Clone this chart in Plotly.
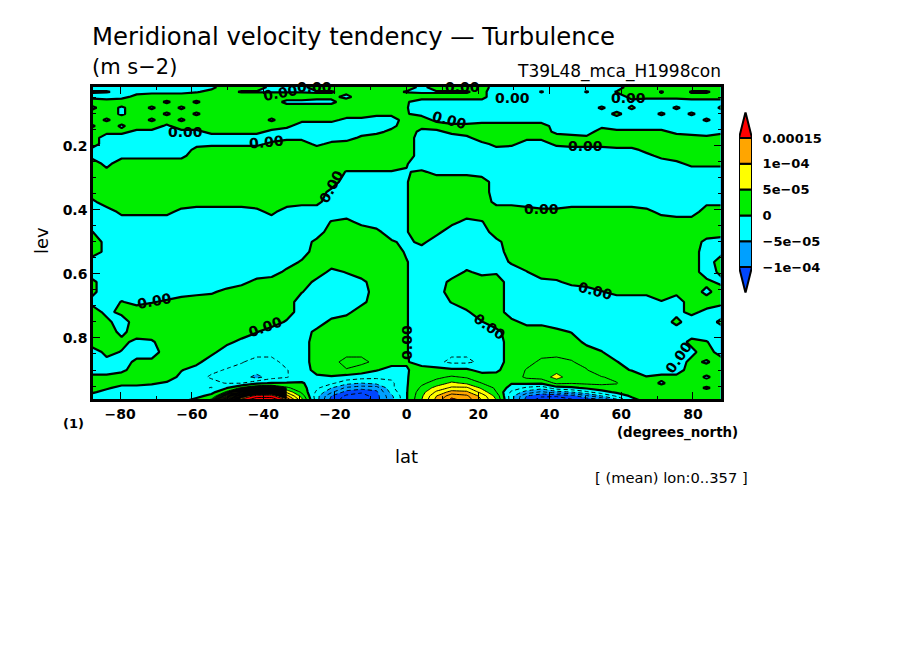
import numpy as np
import plotly.graph_objs as go

# grid of the field
lat = [-88, -83.8, -79.6, -75.4, -71.2, -67, -62.9, -58.7, -54.5, -50.3, -46.1,
       -41.9, -37.7, -33.5, -29.3, -25.1, -21, -16.8, -12.6, -8.4, -4.2, 0,
       4.2, 8.4, 12.6, 16.8, 21, 25.1, 29.3, 33.5, 37.7, 41.9, 46.1, 50.3,
       54.5, 58.7, 62.9, 67, 71.2, 75.4, 79.6, 83.8, 88]
lev = [0.016, 0.031, 0.047, 0.0625, 0.081, 0.1, 0.119, 0.1375, 0.156, 0.175,
       0.194, 0.2125, 0.231, 0.256, 0.281, 0.3125, 0.344, 0.375, 0.406, 0.4375,
       0.469, 0.5, 0.531, 0.5625, 0.594, 0.625, 0.656, 0.6875, 0.719, 0.75,
       0.781, 0.8125, 0.844, 0.875, 0.9, 0.922, 0.941, 0.956, 0.969, 0.981, 0.994]

# tendency in units of 1e-5 m s-2, one row per level
tend = [
    [-2,-2,-2,-2,-2,-2,-2,-2,-1,2,2,2,-1,-1,-1,2,2,2,2,2,2,2, -1,2,2,2,2,-2,-2,-2,-2,-2,-2,-2,-2,-2,2,2,2,2,2,2,2],
    [0.3,0.3,-1,-1,-1,-1,-1,-0.3,1,1,-0.3,-0.3,-0.3,-0.3,-0.3,-0.3,-0.3,1,1,1,1,-0.3, -0.3,-0.3,-0.3,-0.3,1,-2,-2,-2,0.3,-2,-2,0.3,-2,0.3,1,2,-0.3,2,-0.3,-0.3,1],
    [-1,-2,-1,1,2,2,2,2,2,2,2,2,2,2,2,1,1,-1,2,2,2,2, 1,1,1,1,1,-2,-2,-2,-2,-2,-2,-2,-2,-2,1,1,1,1,1,1,1],
    [2,2,2,2,2,-0.6,2,-0.6,2,2,2,2,2,-1,-1,-1,-1,2,2,2,2,0.2, -1,-1,-1,-1,-1,-2,-2,-2,-2,-2,-2,-2,-2,-2,-1,-2,-2,-2,-1,-1,-1],
    [-1,2,-0.6,2,-0.6,2,-0.6,2,2,2,2,2,2,2,2,2,2,2,2,2,2,0.2, -2,-2,-2,-2,-2,-2,-2,-2,-2,-2,-2,-2,0.6,-2,0.6,-2,-2,0.6,-2,-2,0.6],
    [2,2,-0.6,2,2,-0.6,2,-0.6,2,2,2,2,2,2,2,2,2,2,2,1,1,0.2, -1,-2,-2,-2,-2,-2,-2,-2,-2,-2,-2,-2,-2,1,-2,-2,0.6,-2,0.6,-2,-2],
    [2,-0.6,2,2,-0.6,2,-0.6,2,2,2,2,2,-0.6,2,1,1,1,-1,-1,-2,-2,2, 2,-1,-2,-2,-2,-2,-2,-2,-2,-2,-2,-2,-2,-2,-2,-2,-2,-2,-2,0.6,-2],
    [-0.6,2,-0.6,2,2,-0.6,2,2,2,2,2,2,2,1,-2,-2,-2,-2,-2,-2,-1,2, 1,2,1,1,2,2,2,2,2,-2,-2,-2,-1,-2,-2,-2,-2,-2,-2,-2,-2],
    [2,1,1,-1,-1,-1,-1,-1,1,1,1,1,-1,-2,-2,-2,-2,-2,-2,-1,1,2, -1,-1,1,2,2,2,2,2,2,-1,-1,-2,2,1,1,1,1,-1,-1,-2,-1],
    [2,-2,-2,-2,-2,-2,-2,-2,-2,-2,-2,-2,-2,-1,-1,-2,-2,-2,1,2,2,2, -2,-2,-2,-1,2,2,2,1,1,2,1,1,2,2,2,2,2,2,1,1,2],
    [2,-2,-2,-2,-2,-2,-2,-1,-1,-1,-1,-1,1,2,2,-1,1,2,2,2,2,2, -2,-2,-2,-2,-1,1,1,-2,-2,1,1,1,1,2,2,2,2,2,2,2,2],
    [-1,-2,-2,-2,-2,-2,-2,1,2,2,2,2,2,2,2,2,2,2,2,2,2,2, -2,-2,-2,-2,-2,-1,-2,-2,-2,-2,-1,-1,-1,-1,-1,1,2,2,2,2,2],
    [-1,-2,-1,-1,-1,-1,-1,2,2,2,2,2,2,2,2,2,2,2,2,2,2,2, -2,-2,-2,-2,-2,-2,-2,-2,-2,-2,-2,-2,-2,-2,-2,-1,1,2,2,2,2],
    [2,-1,2,2,2,2,2,2,2,2,2,2,2,2,2,2,2,2,2,2,2,0.2, -2,-2,-2,-2,-2,-2,-2,-2,-2,-2,-2,-2,-2,-2,-2,-2,-2,-1,1,1,1],
    [2,1,2,2,2,2,2,2,2,2,2,2,2,2,2,2,2,-0.2,-0.2,-0.2,-0.2,-0.2, 0.5,-1,-1,-1,-2,-2,-2,-2,-2,-2,-2,-2,-2,-2,-2,-2,-2,-2,-2,-2,-2],
    [2,2,2,2,2,2,2,2,2,2,2,2,2,2,2,2,2,-2,-2,-2,-2,-0.2, 2,2,2,2,2,-2,-2,-2,-2,-2,-2,-2,-2,-2,-2,-2,-2,-2,-2,-2,-2],
    [2,2,2,2,2,2,2,2,2,2,2,2,2,2,2,2,-1,-2,-2,-2,-2,-0.2, 2,2,2,2,2,-2,-2,-2,-2,-2,-2,-2,-2,-2,-2,-2,-2,-2,-2,-2,-2],
    [-1,2,2,2,2,2,2,2,2,2,2,2,2,2,1,1,-2,-2,-2,-2,-2,-0.2, 2,2,2,2,2,-1,-1,-2,-2,-2,-2,-2,-2,-2,-2,-2,-2,-2,-2,-1,-1],
    [-2,-2,1,1,1,1,-1,-2,-2,-2,-2,-1,1,-2,-2,-2,-2,-2,-2,-2,-2,-0.2, 2,2,2,2,2,2,2,2,1,1,2,2,2,2,2,1,-1,-2,-2,2,2],
    [-2,-2,-2,-2,-2,-2,-2,-2,-2,-2,-2,-2,-2,-2,-2,-2,0.2,1,-1,-2,-2,-0.2, 2,2,1,-1,-0.2,2,2,2,2,2,2,2,2,2,2,2,2,2,2,2,2],
    [0.2,-2,-2,-2,-2,-2,-2,-2,-2,-2,-2,-2,-2,-2,-2,-2,2,2,2,1,-2,-0.2, 2,1,-2,-2,-2,2,2,2,2,2,2,2,2,2,2,2,2,2,2,2,2],
    [2,-1,-2,-2,-2,-2,-2,-2,-2,-2,-2,-2,-2,-2,-2,1,2,2,2,2,0.5,-1, 1,-2,-2,-2,-2,-1,2,2,2,2,2,2,2,2,2,2,2,2,2,-1,-2],
    [2,-1,-2,-2,-2,-2,-2,-2,-2,-2,-2,-2,-2,-2,-2,2,2,2,2,2,2,-0.5, -2,-2,-2,-2,-2,-2,2,2,2,2,2,2,2,2,2,2,2,2,2,-2,-1],
    [-2,-2,-2,-2,-2,-2,-2,-2,-2,-2,-2,-2,-2,-2,0.5,2,2,2,2,2,2,0.2, -2,-2,-2,-2,-2,-2,0.5,2,2,2,2,2,2,2,2,2,2,2,2,-2,2],
    [-2,-2,-2,-2,-2,-2,-2,-2,-2,-2,-2,-2,-2,1,2,2,-1,0.2,2,2,2,0.2, -2,-2,-2,0.5,-1,-0.5,-2,-0.2,2,2,2,2,2,2,2,2,2,2,2,-2,1],
    [1,-2,-2,-2,-2,-2,-2,-2,-2,-2,-1,1,2,2,2,-1,-2,-2,-1,2,2,0.2, -2,-2,1,2,2,2,-2,-2,-1,-0.5,1,2,2,2,2,2,2,2,2,1,-1],
    [1,-2,-2,-2,-2,-2,-2,-1,-0.5,1,2,2,2,2,0.2,-2,-2,-2,-2,2,2,0.2, -2,-2,2,2,2,2,-2,-2,-2,-2,-2,-2,-0.2,1,1,1,2,1,2,-1,2],
    [-1,-2,0.2,-1,-0.2,0.5,2,2,2,2,2,2,2,2,-2,-2,-2,-2,-1,2,2,0.2, -2,-2,0.2,2,2,2,-2,-2,-2,-2,-2,-2,-2,-2,-2,-2,-0.2,-2,2,2,1],
    [2,-1,1,2,2,2,2,2,2,2,2,2,2,2,-2,-2,-2,-1,2,2,2,0.2, -2,-2,-2,-0.5,2,2,-2,-2,-2,-2,-2,-2,-2,-2,-2,-2,-2,-1,1,-1,-2],
    [2,1,-2,2,2,2,2,2,2,2,2,2,2,-0.5,-2,-2,1,2,2,2,2,0.2, -2,-2,-2,-2,-0.2,2,1,-1,-1,-2,-2,-2,-2,-2,-2,-2,-2,1,-2,-2,1],
    [2,2,-1,2,2,2,2,2,2,2,2,0.2,-2,-2,-2,1,2,2,2,2,2,0.2, -2,-2,-2,-2,-2,-1,2,2,2,1,-0.2,-2,-2,-2,-2,-2,-2,-2,-2,-2,-2],
    [2,2,1,-1,-0.5,2,2,2,2,1,-1,-2,-2,-2,-2,2,2,2,2,2,2,0.2, -2,-2,-2,-2,-2,-2,2,2,2,2,2,-1,-2,-2,-2,-2,-2,-2,1,0.2,-2],
    [-2,1,-0.2,-2,-2,2,2,2,1,-2,-2,-2,-2,-2,-2,2,2,2,2,2,2,0.2, -2,-2,-2,-2,-2,-2,2,2,2,2,2,2,0.2,-2,-2,-2,-2,-2,-1,2,-2],
    [-2,-1,-2,1,1,2,2,1,-2,-2,-2.4,-3,-3,-2,-2,2,2,3,3,2,1,0.2, -1,-2,-3,-3,-2,-2,2,2,2.8,3,2.6,2,2,0.2,-2,-2,-2,-2,1,-0.5,2],
    [-2,-2,-1,2,2,2,0.2,-1.5,-2.2,-2.6,-3,-3.5,-3,-2.6,-1.5,1,2,2.4,1.5,0.2,-1,-0.2, 1,1,0.5,0.5,-1,-0.5,1.5,2.6,3,4,3.5,2.6,1,1,-0.2,-2,-2,-2,2,2,2],
    [1,1,2,2,2,2,-1,-2,-2.7,-3,-3.5,-6,-3.5,-2.7,-1,-0.5,-0.3,-1,-1.5,-2,-2,-0.2, 1.5,2,2.8,2.2,1.5,1,1,3,3.5,6,3.5,3,2.6,2,2,0.2,1,1,2,-0.6,2],
    [1,1,1,1,0.5,-0.5,-1,-1.5,-2,-2.6,-2.6,-0.5,0.2,0.2,0.2,-1,-2,-4,-5,-4,-3,-0.2, 2,3.5,5.5,4.5,2.5,1.5,0.2,0.5,0.5,3,2.7,3,3,2.6,1,2,-0.6,2,2,2,2],
    [1,0.5,-1,-1,-1.5,-1.5,-1.5,-2,-2.6,-0.2,3,5,5.5,3,1,-2,-5,-8,-9,-9,-3,-0.2, 3,6,8,8,4.5,2,-1,-3,-4,-1,-0.5,0.5,1.5,2,1,1.5,1.5,2,2,-0.6,2],
    [0.5,-1,-1,-1,-1,-1,-1,-1.5,-1,3,8,10,11,7,2,-3,-7,-11,-12,-10.5,-4,-0.2, 4,8,11,10.5,6.5,2.5,-3,-6,-8,-6,-5,-3,-1,0.5,1,1.5,2,2,2,2,2],
    [-1,-1,-1,-1,-1,-1,-1,-1,1,6,12,16,16,11,4,-4,-10,-13,-14,-11,-5.5,-0.2, 4.5,10,14,13,9,4,-4,-10,-12,-12,-11,-8,-5,-2,0.5,2,2,2,2,2,2],
    [-1,-1,-1,-1,-1,-1,-1,1,3,9,16,20,20,15,6,-4,-11,-14,-15,-11,-6,-0.2, 5,11,16,14,10,5,-4,-11,-14,-15,-13,-12,-11,-6,-1,1,1,1,1,1,1],
]

# labels on the zero contour
label_lat = [-61.9, -39.2, -21.1, -25.8, -35.3, 15.5, 29.7, 11.9, 50.1, 37.6, 52.9, 23.3, 0.1, 76.1, -39.5, -70.5, 61.9]
label_lev = [0.156, 0.1875, 0.328, 0.016, 0.034, 0.016, 0.05, 0.119, 0.2, 0.397, 0.653, 0.766, 0.8125, 0.859, 0.766, 0.684, 0.05]
label_angle = [0, -5, -62, 0, -10, 0, 0, 15, 0, 0, 15, 35, -90, -55, -20, -10, 0]

# colour bar
bar_levels = [-10, -5, 0, 5, 10]
bar_colors = ['#00a0ff', '#00ffff', '#00ee00', '#ffff00', '#ffa500']
tick_levels = [-10, -5, 0, 5, 10, 15]
tick_text = ['-1e-04', '-5e-05', '0', '5e-05', '1e-04', '0.00015']

W, H = 904, 654
FONT = 'DejaVu Sans'
black = [[0, 'black'], [1, 'black']]
steps = ['#0046ff', '#00a0ff', '#00ffff', '#00ee00', '#ffff00', '#ffa500', '#ff0000']

scale = []
for i, c in enumerate(steps):
    scale.append([i / 7, c])
    scale.append([(i + 1) / 7, c])

fig = go.Figure()
fig.add_trace(go.Contour(x=lat, y=lev, z=tend, zmin=-15, zmax=20, colorscale=scale, showscale=False,
                         contours=dict(coloring='fill', start=-10, end=15, size=5),
                         line=dict(width=0, smoothing=0), hoverinfo='skip'))
# thin contours, dashed when negative
fig.add_trace(go.Contour(x=lat, y=lev, z=tend, colorscale=black, showscale=False,
                         contours=dict(coloring='lines', start=2.5, end=20, size=2.5),
                         line=dict(width=1, smoothing=0), hoverinfo='skip'))
fig.add_trace(go.Contour(x=lat, y=lev, z=tend, colorscale=black, showscale=False,
                         contours=dict(coloring='lines', start=-15, end=-2.5, size=2.5),
                         line=dict(width=1, dash='4px,3px', smoothing=0), hoverinfo='skip'))
# the southern maximum is nearly black with lines in the original
sub = np.array(tend)[36:, 8:14]
fig.add_trace(go.Contour(x=lat[8:14], y=lev[36:], z=sub, colorscale=black, showscale=False,
                         contours=dict(coloring='lines', start=3, end=14, size=0.35),
                         line=dict(width=1, smoothing=0), hoverinfo='skip'))
fig.add_trace(go.Contour(x=lat, y=lev, z=tend, colorscale=black, showscale=False,
                         contours=dict(coloring='lines', start=0, end=0, size=1),
                         line=dict(width=2.2, smoothing=0), hoverinfo='skip'))

# colour bar built on its own small axes
fig.add_trace(go.Bar(x=[0] * len(bar_levels), y=[5] * len(bar_levels), base=bar_levels, width=1,
                     marker=dict(color=bar_colors, line=dict(color='black', width=2)),
                     xaxis='x2', yaxis='y2', hoverinfo='skip'))
fig.add_trace(go.Scatter(x=[-0.5, 0, 0.5, -0.5], y=[15, 20, 15, 15], fill='toself', fillcolor='#ff0000', mode='lines',
                         line=dict(color='black', width=2), xaxis='x2', yaxis='y2', hoverinfo='skip'))
fig.add_trace(go.Scatter(x=[-0.5, 0, 0.5, -0.5], y=[-10, -15, -10, -10], fill='toself', fillcolor='#0046ff', mode='lines',
                         line=dict(color='black', width=2), xaxis='x2', yaxis='y2', hoverinfo='skip'))

axis_font = dict(family=FONT, size=14, color='black', weight='bold')
fig.update_layout(
    width=W, height=H, margin=dict(l=0, r=0, t=0, b=0), paper_bgcolor='white', plot_bgcolor='white',
    showlegend=False, barmode='overlay', font=dict(family=FONT, color='black'),
    xaxis=dict(domain=[93 / W, 720.5 / W], range=[-87.6, 87.7], tickvals=list(range(-80, 81, 20)),
               ticktext=['\u221280', '\u221260', '\u221240', '\u221220', '0', '20', '40', '60', '80'],
               ticks='inside', ticklen=7, tickwidth=1, tickcolor='black', minor=dict(ticks='inside', ticklen=3, dtick=10, tickcolor='black'),
               showline=True, linewidth=2.5, linecolor='black', mirror='ticks', showgrid=False, zeroline=False, tickfont=axis_font),
    yaxis=dict(domain=[1 - 399 / H, 1 - 87 / H], range=[0.9906, 0.016], tickvals=[0.2, 0.4, 0.6, 0.8],
               ticks='inside', ticklen=7, tickwidth=1, tickcolor='black', minor=dict(ticks='inside', ticklen=3, dtick=0.05, tickcolor='black'),
               showline=True, linewidth=2.5, linecolor='black', mirror='ticks', showgrid=False, zeroline=False, tickfont=axis_font),
    xaxis2=dict(domain=[739 / W, 752 / W], range=[-0.5, 0.5], anchor='y2', visible=False),
    yaxis2=dict(domain=[1 - 292.8 / H, 1 - 112.2 / H], range=[-15, 20], anchor='free', position=752 / W, side='right',
                tickvals=tick_levels, ticktext=[t.replace('-', '\u2212') for t in tick_text], ticks='outside', ticklen=7, tickcolor='rgba(0,0,0,0)',
                showgrid=False, zeroline=False, showline=False, tickfont=dict(family=FONT, size=13, color='black', weight='bold')),
)

for x0, y0, ang in zip(label_lat, label_lev, label_angle):
    fig.add_annotation(x=x0, y=y0, xref='x', yref='y', text='0.00', textangle=ang, showarrow=False,
                       font=dict(family=FONT, size=14, color='black', weight='bold'))


def page_text(px, py, text, size, anchor='left', angle=0, weight='normal'):
    fig.add_annotation(x=px / W, y=1 - py / H, xref='paper', yref='paper', text=text, showarrow=False, xanchor=anchor,
                       yanchor='middle', textangle=angle, font=dict(family=FONT, size=size, color='black', weight=weight))


page_text(90, 37, 'Meridional velocity tendency \u2014 Turbulence', 24.3)
page_text(90, 67, '(m s\u22122)', 21)
page_text(723, 71, 'T39L48_mca_H1998con', 17, 'right')
page_text(42, 241, 'lev', 18, 'center', -90)
page_text(406, 456, 'lat', 18, 'center')
page_text(73, 423, '(1)', 13, 'center', weight='bold')
page_text(740, 433, '(degrees_north)', 13.4, 'right', weight='bold')
page_text(750, 477, '[ (mean) lon:0..357 ]', 14.7, 'right')

fig.write_html("out.html", config={'displayModeBar': False}, post_script="document.body.style.margin='0'")
